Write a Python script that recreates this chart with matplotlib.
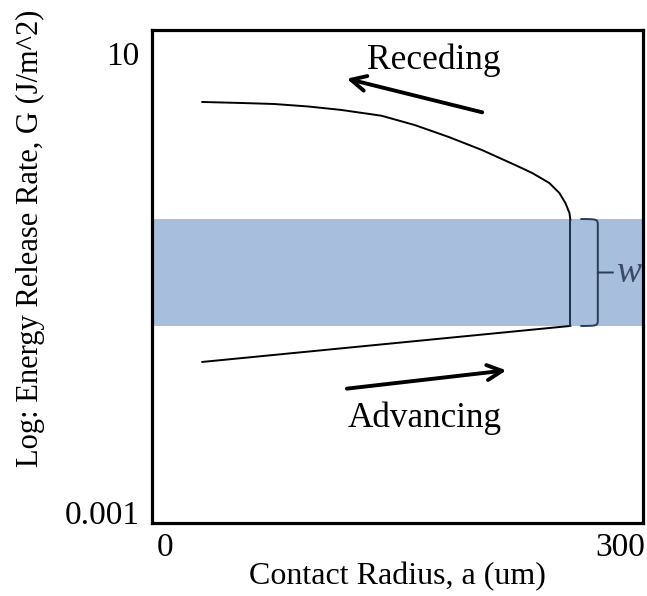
"""
    Receding / advancing energy release rate sketch
"""

import matplotlib
matplotlib.use('Agg')
import matplotlib.pyplot as plt
import numpy as np
from matplotlib.path import Path
from matplotlib.patches import PathPatch

plt.rcParams['font.family'] = ['Liberation Serif', 'DejaVu Serif']

# receding branch (contact radius um, G J/m^2)
rec_a = [24.6, 49.8, 71.7, 94.2, 116.1, 142.7, 164.6, 187.1, 209.0,
         230.9, 242.2, 253.5, 260.1, 264.1, 266.8, 267.4]
rec_G = [3.741, 3.667, 3.594, 3.420, 3.190, 2.840, 2.358, 1.854, 1.428,
         1.057, 0.900, 0.736, 0.603, 0.493, 0.403, 0.3505]
# advancing branch
adv_a = [24.6, 267.4]
adv_G = [0.0203, 0.0418]
# jump at the pinning radius
jump_a = [267.4, 267.4]
jump_G = [0.3505, 0.0418]
# band of work of adhesion w
band_lo = 0.0418
band_hi = 0.357

xticks = [0, 300]
xticklabels = ['0', '300']
yticks = [0.001, 10]
yticklabels = ['0.001', '10']

fig = plt.figure(figsize=(6.47, 5.96), dpi=100)
ax = fig.add_axes([0.2349, 0.1225, 0.7589, 0.8272])

ax.set_yscale('log')
ax.set_xlim(-8.6, 315.3)
ax.set_ylim(10**-3.096, 10**1.2004)

ax.axhspan(band_lo, band_hi, color='#a7bfdc', lw=0, zorder=1)

ax.plot(rec_a, rec_G, color='black', lw=1.4, zorder=3, solid_joinstyle='round')
ax.plot(adv_a, adv_G, color='black', lw=1.4, zorder=3)
ax.plot(jump_a, jump_G, color='#1e3048', lw=1.4, zorder=3)

# curly brace for w
bx0, bx1, bx2 = 274.0, 285.5, 296.0
lm = np.log10(band_lo)
lh = np.log10(band_hi)
mid = 10 ** ((lm + lh) / 2)
r = 0.06
verts = [
    (bx0, band_hi), (bx1, band_hi), (bx1, band_hi), (bx1, 10 ** (lh - r)),
    (bx1, mid * 10 ** 0.02), (bx1, mid), (bx2, mid),
    (bx1, mid), (bx1, mid * 10 ** -0.02), (bx1, 10 ** (lm + r)),
    (bx1, band_lo), (bx1, band_lo), (bx0, band_lo),
]
codes = [Path.MOVETO, Path.CURVE4, Path.CURVE4, Path.CURVE4,
         Path.LINETO, Path.LINETO, Path.LINETO,
         Path.MOVETO, Path.LINETO, Path.LINETO,
         Path.CURVE4, Path.CURVE4, Path.CURVE4]
ax.add_patch(PathPatch(Path(verts, codes), fill=False, ec='#2a3c58', lw=1.4, zorder=4))
ax.text(297.3, mid, 'w', color='#3a4a68', fontsize=27, fontstyle='italic',
        ha='left', va='center', zorder=4)

# direction arrows
ax.annotate('', xy=(118.1, 6.05), xytext=(211.0, 3.0),
            arrowprops=dict(arrowstyle='->', lw=2.8, color='black',
                            mutation_scale=27))
ax.annotate('', xy=(227.0, 0.01726), xytext=(118.1, 0.0118),
            arrowprops=dict(arrowstyle='->', lw=2.8, color='black',
                            mutation_scale=27))
ax.text(177.2, 8.69, 'Receding', fontsize=25.5, ha='center', va='center')
ax.text(171.2, 0.00659, 'Advancing', fontsize=25.3, ha='center', va='center')

ax.set_xticks(xticks)
ax.set_xticklabels(xticklabels)
ax.set_yticks(yticks)
ax.set_yticklabels(yticklabels)
ax.minorticks_off()
ax.tick_params(axis='both', length=0, labelsize=24)
ax.tick_params(axis='x', pad=7)
ax.tick_params(axis='y', pad=9)

for s in ax.spines.values():
    s.set_linewidth(2.3)
    s.set_color('black')

fig.text(397 / 647, 1 - 577 / 596, 'Contact Radius, a (um)', fontsize=23,
         ha='center', va='center')
fig.text(30 / 647, 1 - 238 / 596, 'Log: Energy Release Rate, G (J/m^2)',
         fontsize=22, rotation=90, ha='center', va='center')

fig.savefig('out.png', dpi=100)
